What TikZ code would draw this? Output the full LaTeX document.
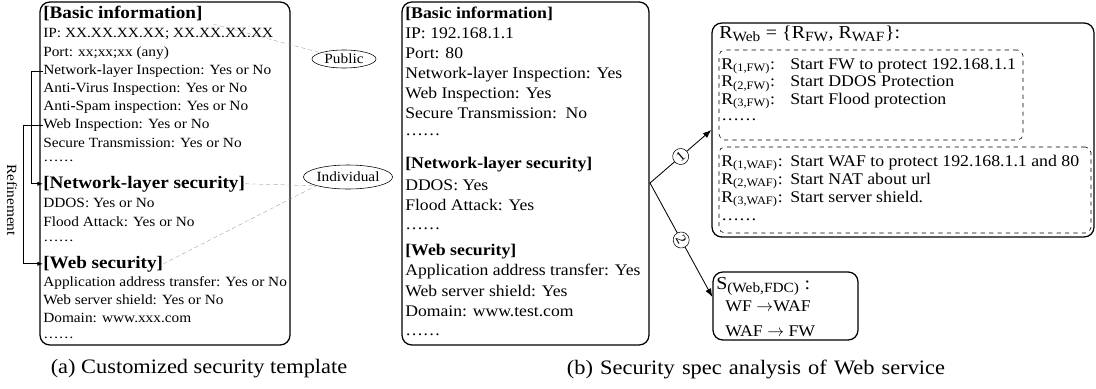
\documentclass[tikz,border=0pt]{standalone}
\usepackage{fontspec}
\setmainfont[FakeStretch=1.09]{Liberation Serif}
\usetikzlibrary{shapes.geometric, arrows.meta, positioning, fit, calc}

\newcommand{\rulelabel}[1]{\makebox[1.725cm][l]{#1}}
\newcommand{\lowtext}[1]{\textsubscript{\fontsize{10}{10}\selectfont #1}}

\begin{document}
\begin{tikzpicture}[
    x=0.025cm, y=-0.025cm,
    % Text lines
    txtline/.style={anchor=base west, inner sep=0pt, font=\fontsize{10}{12}\selectfont},
    headline/.style={txtline, font=\fontsize{12.5}{14}\selectfont\bfseries},
    midline/.style={txtline, font=\fontsize{11.5}{13}\selectfont},
    midhead/.style={txtline, font=\fontsize{11.6}{13}\selectfont\bfseries},
    ruleline/.style={txtline, font=\fontsize{11.6}{13}\selectfont},
    titleline/.style={txtline, font=\fontsize{13}{15}\selectfont},
    % Boxes
    framebox/.style={
        rectangle,
        rounded corners=7pt,
        draw=black,
        line width=0.9pt,
        inner sep=0pt
    },
    rulebox/.style={
        rectangle,
        rounded corners=4pt,
        draw=black,
        dashed,
        thin,
        inner sep=0pt
    },
    tagellipse/.style={
        ellipse,
        draw=black,
        thin,
        inner sep=0pt,
        font=\fontsize{10}{12}\selectfont
    },
    guide/.style={draw=black!45, densely dashed, very thin},
    arrow/.style={-{Latex[length=6pt,width=4.5pt]}, semithick},
    refarrow/.style={-{Latex[length=4pt,width=3pt]}, semithick},
    stepmark/.style={
        circle,
        draw,
        thin,
        fill=white,
        inner sep=0pt,
        minimum size=0.4cm,
        font=\fontsize{10}{10}\selectfont
    },
    caption/.style={font=\fontsize{14.6}{17}\selectfont}
]
\useasboundingbox (0,0) rectangle (1096,388);

% === (a) Customized security template ===
\node[headline] (basic1) at (43,19) {[Basic information]};
\node[txtline] (ip1) at (43,37.5) {IP: XX.XX.XX.XX; XX.XX.XX.XX};
\node[txtline] (port1) at (43,56) {Port: xx;xx;xx (any)};
\node[txtline] (netinsp1) at (43,74.5) {Network\textbf{-}layer Inspection: Yes or No};
\node[txtline] (virus1) at (43,92.5) {Anti\textbf{-}Virus Inspection: Yes or No};
\node[txtline] (spam1) at (43,110.5) {Anti\textbf{-}Spam inspection: Yes or No};
\node[txtline] (webinsp1) at (43,128.5) {Web Inspection: Yes or No};
\node[txtline] (secure1) at (43,147) {Secure Transmission: Yes or No};
\node[txtline] (more1) at (43,161) {……};
\node[headline] (nethead1) at (43,188) {[Network-layer security]};
\node[txtline] (ddos1) at (43,207.5) {DDOS: Yes or No};
\node[txtline] (flood1) at (43,226) {Flood Attack: Yes or No};
\node[txtline] (more2) at (43,241) {……};
\node[headline] (webhead1) at (43,268) {[Web security]};
\node[txtline] (app1) at (43,286.5) {Application address transfer: Yes or No};
\node[txtline] (shield1) at (43,304.5) {Web server shield: Yes or No};
\node[txtline] (domain1) at (43,322.5) {Domain: www.xxx.com};
\node[txtline] (more3) at (43,338) {……};

\node[framebox, fit={(40,2) (290,345)}] (template) {};

% refinement arrows
\draw[refarrow] (netinsp1.west) -- ++(-12,0) |- (nethead1.west);
\draw[refarrow] (webinsp1.west) -- ++(-20,0) |- (webhead1.west);
\node[rotate=-90, font=\fontsize{10}{12}\selectfont] (refine) at (12,200) {Refinement};

% public / individual tags
\node[tagellipse, minimum width=1.6cm, minimum height=0.45cm] (public) at (344,59) {Public};
\node[tagellipse, minimum width=2cm, minimum height=0.6cm] (individual) at (348,177) {Individual};

\coordinate (ipmark) at (213,24);
\draw[guide] (ipmark) -- (public);
\draw[guide] (nethead1.east) -- (individual.south west);
\draw[guide] (webhead1.east) -- (individual.south west);

\node[caption] (capa) at (199,369) {(a) Customized security template};

% === (b) Security spec of Web service ===
\node[midhead] (basic2) at (405,19) {[Basic information]};
\node[midline] (ip2) at (405,38) {IP: 192.168.1.1};
\node[midline] (port2) at (405,58) {Port: 80};
\node[midline] (netinsp2) at (405,78) {Network\textbf{-}layer Inspection: Yes};
\node[midline] (webinsp2) at (405,98) {Web Inspection: Yes};
\node[midline] (secure2) at (405,118) {Secure Transmission:\ \ No};
\node[midline] (more4) at (405,135) {……};
\node[midhead] (nethead2) at (405,168) {[Network-layer security]};
\node[midline] (ddos2) at (405,190) {DDOS: Yes};
\node[midline] (flood2) at (405,210.5) {Flood Attack: Yes};
\node[midline] (more5) at (405,229) {……};
\node[midhead] (webhead2) at (405,255) {[Web security]};
\node[midline] (app2) at (405,275.5) {Application address transfer: Yes};
\node[midline] (shield2) at (405,296) {Web server shield: Yes};
\node[midline] (domain2) at (405,316.5) {Domain: www.test.com};
\node[midline] (more6) at (405,335) {……};

\node[framebox, fit={(402,2) (649,345)}] (spec) {};

% === Rule sets ===
\node[titleline] (rweb) at (719,38) {R\lowtext{Web} = \{R\lowtext{FW}, R\lowtext{WAF}\}:};

\node[ruleline] (fw1) at (721,69) {\rulelabel{R\textsubscript{(1,FW)}:}Start FW to protect 192.168.1.1};
\node[ruleline] (fw2) at (721,86.5) {\rulelabel{R\textsubscript{(2,FW)}:}Start DDOS Protection};
\node[ruleline] (fw3) at (721,104) {\rulelabel{R\textsubscript{(3,FW)}:}Start Flood protection};
\node[ruleline] (fw4) at (721,120) {……};
\node[rulebox, fit={(719,50) (1023,140)}] (fwset) {};

\node[ruleline] (waf1) at (721,166) {\rulelabel{R\textsubscript{(1,WAF)}:}Start WAF to protect 192.168.1.1 and 80};
\node[ruleline] (waf2) at (721,184) {\rulelabel{R\textsubscript{(2,WAF)}:}Start NAT about url};
\node[ruleline] (waf3) at (721,202) {\rulelabel{R\textsubscript{(3,WAF)}:}Start server shield.};
\node[ruleline] (waf4) at (721,220) {……};
\node[rulebox, fit={(719,147) (1091,233)}] (wafset) {};

\node[framebox, fit={(712,23) (1094,237)}] (rules) {};

% === Service function chain ===
\node[titleline] (sfdc) at (716,289) {S\lowtext{(Web,FDC)}\ :};
\node[ruleline] (chain1) at (725,311) {WF $\rightarrow$WAF};
\node[ruleline] (chain2) at (725,336) {WAF $\rightarrow$ FW};
\node[framebox, fit={(713,272) (858,340)}] (chain) {};

% === Analysis arrows ===
\coordinate (split) at (650,183);
\draw[arrow] (split) -- (rules.west) node[stepmark, pos=0.5, rotate=40] {1};
\draw[arrow] (split) -- ($(chain.west)+(0,-9)$) node[stepmark, pos=0.5, rotate=-61] {2};

\node[caption] (capb) at (756,369) {\makebox[9.45cm][s]{(b) Security spec analysis of Web service}};

\end{tikzpicture}
\end{document}
